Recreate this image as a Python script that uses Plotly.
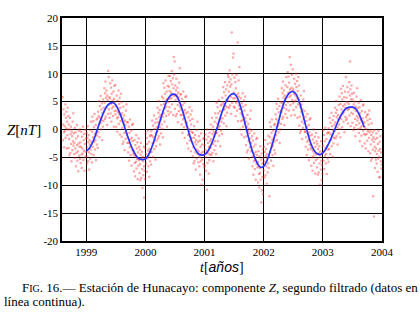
import numpy as np
import plotly.graph_objects as go

# ---- observed (filtered daily) values, one row per 0.1 year starting 1998.6, step 0.005 yr ----
obs_start = 1998.6
obs_step = 0.005
obs_z = [
    5.8, -1.9, 0.9, 3.6, -0.5, -3.2, 2.7, 0.6, -0.3, 4.5, -1.5, 2.1, 0.2, 3.2, -3.4, 1.4, -1.0, 3.9, 0.0, 2.4,
    -3.3, 0.9, -1.7, -4.6, 0.0, 2.1, -4.2, -0.8, 0.5, -2.6, -5.7, -0.4, -1.2, -3.7, 1.4, -2.1, 2.9, -2.9, -0.7, -4.4,
    -2.4, 0.3, -5.1, -3.4, -0.5, -6.6, -1.6, -4.2, 0.8, -2.8, -5.6, -3.9, -1.2, -7.5, -2.5, -0.2, -4.7, -3.1, 0.0, -5.3,
    -2.3, -6.0, -3.1, -0.4, -4.5, -6.9, -1.3, -3.4, -4.3, 0.5, -5.5, -1.9, -3.8, -0.8, -7.4, -2.6, -5.0, -0.1, -4.0, -1.6,
    -4.8, -0.6, -3.2, -6.1, -1.5, 0.6, -5.7, -2.3, -1.0, -4.1, -7.2, -1.9, -2.7, -5.2, -0.1, -3.6, 1.4, -4.4, -2.2, -5.9,
    -0.4, 2.3, -3.1, -1.4, 1.5, -4.6, 0.4, -2.2, 2.8, -0.8, -3.6, -1.9, 0.8, -5.5, -0.5, 1.8, -2.7, -1.1, 2.0, -3.3,
    3.2, -0.5, 2.4, 5.1, 1.0, -1.4, 4.2, 2.1, 1.2, 6.0, 0.0, 3.6, 1.7, 4.7, -1.9, 2.9, 0.5, 5.4, 1.5, 3.9,
    3.2, 7.4, 4.8, 1.9, 6.5, 8.6, 2.3, 5.7, 7.0, 3.9, 0.8, 6.1, 5.3, 2.8, 10.5, 4.4, 9.4, 3.6, 5.8, 2.1,
    5.6, 8.3, 2.9, 4.6, 7.5, 1.4, 6.4, 3.8, 8.8, 5.2, 2.4, 4.1, 6.8, 0.5, 5.5, 7.8, 3.3, 4.9, 8.0, 2.7,
    4.2, 0.5, 3.4, 6.1, 2.0, -0.4, 5.2, 3.1, 2.2, 7.0, 1.0, 4.6, 2.7, 5.7, -0.9, 3.9, 1.5, 6.4, 2.5, 4.9,
    -1.3, 2.9, 0.3, -2.6, 2.0, 4.1, -2.2, 1.2, 2.5, -0.6, -3.7, 1.6, 0.8, -1.7, 3.4, -0.1, 4.5, -0.9, 1.3, -2.4,
    -1.4, 1.3, -4.1, -2.4, 0.5, -5.6, -0.6, -3.2, 1.8, -1.8, -4.6, -2.9, -0.2, -6.5, -1.5, 0.8, -3.7, -2.1, 1.0, -4.3,
    -3.8, -7.5, -4.6, -1.9, -6.0, -8.4, -2.8, -4.9, -5.8, -1.0, -7.0, -3.4, -5.3, -2.3, -8.9, -4.1, -6.5, -1.6, -5.5, -3.1,
    -7.8, -3.6, -6.2, -9.1, -4.5, -2.4, -8.7, -5.3, -4.0, -7.1, -10.5, -4.9, -5.7, -8.2, -3.1, -6.6, -12.2, -7.4, -5.2, -8.9,
    -3.4, -0.7, -6.1, -4.4, -1.5, -7.6, -2.6, -5.2, -0.2, -3.8, -6.6, -4.9, -2.2, -8.5, -3.5, -1.2, -5.7, -4.1, -1.0, -6.3,
    -0.3, -4.0, -1.1, 1.6, -2.5, -4.9, 0.7, -1.4, -2.3, 2.5, -3.5, 0.1, -1.8, 1.2, -5.4, -0.6, -3.0, 1.9, -2.0, 0.4,
    -0.3, 3.9, 1.3, -1.6, 3.0, 5.1, -1.2, 2.2, 3.5, 0.4, -2.7, 2.6, 1.8, -0.7, 4.4, 0.9, 5.9, 0.1, 2.3, -1.4,
    5.6, 8.3, 2.9, 4.6, 7.5, 1.4, 6.4, 3.8, 8.8, 5.2, 2.4, 4.1, 6.8, 0.5, 5.5, 7.8, 3.3, 4.9, 9.6, 2.7,
    7.7, 4.0, 6.9, 9.6, 5.5, 3.1, 8.7, 6.6, 5.7, 10.5, 4.5, 8.1, 6.2, 9.2, 2.6, 7.4, 13.0, 9.9, 6.0, 12.2,
    3.7, 7.9, 5.3, 2.4, 7.0, 9.1, 2.8, 6.2, 7.5, 4.4, 1.3, 6.6, 5.8, 3.3, 8.4, 4.9, 11.0, 4.1, 6.3, 2.6,
    3.6, 6.3, 0.9, 2.6, 5.5, -0.6, 4.4, 1.8, 6.8, 3.2, 0.4, 2.1, 4.8, -1.5, 3.5, 5.8, 1.3, 2.9, 6.0, 0.7,
    1.2, -2.5, 0.4, 3.1, -1.0, -3.4, 2.2, 0.1, -0.8, 4.0, -2.0, 1.6, -0.3, 2.7, -3.9, 0.9, -1.5, 3.4, -0.5, 1.9,
    -4.8, -0.6, -3.2, -6.1, -1.5, 0.6, -5.7, -2.3, -1.0, -4.1, -7.2, -1.9, -2.7, -5.2, -0.1, -3.6, 1.4, -4.4, -2.2, -5.9,
    -3.9, -1.2, -6.6, -4.9, -2.0, -8.1, -3.1, -5.7, -0.7, -4.3, -9.9, -5.4, -2.7, -9.0, -4.0, -1.7, -6.2, -4.6, -1.5, -6.8,
    -2.8, -6.5, -3.6, -0.9, -5.0, -7.4, -1.8, -3.9, -10.8, 0.0, -6.0, -2.4, -4.3, -1.3, -7.9, -3.1, -5.5, -0.6, -4.5, -2.1,
    -3.3, 0.9, -1.7, -4.6, 0.0, 2.1, -4.2, -0.8, 0.5, -2.6, -5.7, -0.4, -1.2, -3.7, 1.4, -2.1, 2.9, -2.9, -0.7, -4.4,
    2.1, 4.8, -0.6, 1.1, 4.0, -2.1, 2.9, 0.3, 5.3, 1.7, -1.1, 0.6, 3.3, -3.0, 2.0, 4.3, -0.2, 1.4, 4.5, -0.8,
    5.7, 2.0, 4.9, 7.6, 3.5, 1.1, 6.7, 4.6, 3.7, 8.5, 2.5, 6.1, 4.2, 7.2, 0.6, 5.4, 3.0, 7.9, 4.0, 9.8,
    5.2, 9.4, 6.8, 3.9, 8.5, 10.6, 4.3, 7.7, 9.0, 5.9, 2.8, 8.1, 17.4, 4.8, 9.9, 6.4, 12.9, 5.6, 13.6, 4.1,
    6.6, 9.3, 3.9, 5.6, 8.5, 2.4, 7.4, 4.8, 9.8, 6.2, 3.4, 5.1, 15.6, 1.5, 6.5, 8.8, 4.3, 5.9, 11.2, 3.7,
    3.7, 0.0, 2.9, 5.6, 1.5, -0.9, 4.7, 2.6, 1.7, 6.5, 0.5, 4.1, 2.2, 5.2, -1.4, 3.4, 1.0, 5.9, 2.0, 4.4,
    -2.8, 1.4, -1.2, -4.1, 0.5, 2.6, -3.7, -0.3, 1.0, -2.1, -5.2, 0.1, -0.7, -3.2, 1.9, -1.6, 3.4, -2.4, -0.2, -3.9,
    -3.9, -1.2, -6.6, -4.9, -2.0, -8.1, -3.1, -5.7, -0.7, -4.3, -7.1, -5.4, -2.7, -9.0, -4.0, -1.7, -6.2, -4.6, -1.5, -6.8,
    -5.8, -9.5, -6.6, -3.9, -8.0, -10.4, -4.8, -6.9, -7.8, -3.0, -9.0, -5.4, -13.1, -4.3, -10.9, -6.1, -8.5, -3.6, -11.6, -5.1,
    -7.3, -3.1, -5.7, -8.6, -4.0, -1.9, -8.2, -4.8, -3.5, -6.6, -9.7, -4.4, -5.2, -7.7, -2.6, -6.1, -1.1, -6.9, -4.7, -12.0,
    -1.4, 1.3, -4.1, -2.4, 0.5, -5.6, -0.6, -3.2, 1.8, -1.8, -4.6, -2.9, -0.2, -6.5, -1.5, 0.8, -3.7, -2.1, 1.0, -4.3,
    2.7, -1.0, 1.9, 4.6, 0.5, -1.9, 3.7, 1.6, 0.7, 5.5, -0.5, 3.1, 1.2, 4.2, -2.4, 2.4, 0.0, 4.9, 1.0, 3.4,
    3.2, 7.4, 4.8, 1.9, 6.5, 8.6, 2.3, 5.7, 7.0, 3.9, 0.8, 6.1, 5.3, 2.8, 7.9, 4.4, 9.4, 3.6, 5.8, 2.1,
    7.6, 10.3, 4.9, 6.6, 9.5, 3.4, 8.4, 5.8, 13.0, 7.2, 4.4, 6.1, 11.6, 2.5, 7.5, 9.8, 5.3, 6.9, 10.8, 4.7,
    7.2, 3.5, 6.4, 9.1, 5.0, 2.6, 8.2, 6.1, 5.2, 10.0, 4.0, 7.6, 5.7, 8.7, 2.1, 6.9, 4.5, 9.4, 5.5, 7.9,
    0.7, 4.9, 2.3, -0.6, 4.0, 6.1, -0.2, 3.2, 4.5, 1.4, -1.7, 3.6, 2.8, 0.3, 5.4, 1.9, 6.9, 1.1, 3.3, -0.4,
    -0.4, 2.3, -3.1, -1.4, 1.5, -4.6, 0.4, -2.2, 2.8, -0.8, -3.6, -1.9, 0.8, -5.5, -0.5, 1.8, -2.7, -1.1, 2.0, -3.3,
    -2.8, -6.5, -3.6, -0.9, -5.0, -7.4, -1.8, -3.9, -4.8, 0.0, -6.0, -2.4, -4.3, -1.3, -7.9, -3.1, -5.5, -0.6, -4.5, -2.1,
    -6.8, -2.6, -5.2, -8.1, -3.5, -1.4, -7.7, -4.3, -3.0, -6.1, -9.9, -3.9, -4.7, -7.2, -2.1, -5.6, -9.1, -6.4, -4.2, -7.9,
    -2.9, -0.2, -5.6, -3.9, -1.0, -7.1, -2.1, -4.7, 0.3, -3.3, -6.1, -4.4, -1.7, -8.0, -3.0, -0.7, -5.2, -3.6, -0.5, -5.8,
    0.2, -3.5, -0.6, 2.1, -2.0, -4.4, 1.2, -0.9, -1.8, 3.0, -3.0, 0.6, -1.3, 1.7, -4.9, -0.1, -2.5, 2.4, -1.5, 0.9,
    -0.3, 3.9, 1.3, -1.6, 3.0, 5.1, -1.2, 2.2, 3.5, 0.4, -2.7, 2.6, 1.8, -0.7, 4.4, 0.9, 5.9, 0.1, 2.3, -1.4,
    4.6, 7.3, 1.9, 3.6, 6.5, 0.4, 5.4, 2.8, 7.8, 4.2, 1.4, 3.1, 5.8, -0.5, 4.5, 6.8, 2.3, 3.9, 9.4, 1.7,
    5.7, 2.0, 4.9, 7.6, 3.5, 1.1, 6.7, 4.6, 3.7, 8.5, 2.5, 6.1, 12.2, 7.2, 0.6, 5.4, 3.0, 7.9, 4.0, 6.4,
    1.2, 5.4, 2.8, -0.1, 4.5, 6.6, 0.3, 3.7, 5.0, 1.9, -1.2, 4.1, 3.3, 0.8, 5.9, 2.4, 7.4, 1.6, 3.8, 0.1,
    2.1, 4.8, -0.6, 1.1, 4.0, -2.1, 2.9, 0.3, 5.3, 1.7, -1.1, 0.6, 3.3, -3.0, 2.0, 4.3, -0.2, 1.4, 4.5, -0.8,
    1.2, -2.5, 0.4, 3.1, -1.0, -3.4, 2.2, 0.1, -0.8, 2.6, -2.0, 1.6, -0.3, 2.7, -3.9, 0.9, -1.5, 3.4, -0.5, 1.9,
    -4.3, -0.1, -2.7, -5.6, -1.0, 1.1, -5.2, -1.8, -0.5, -3.6, -12.0, -1.4, -2.2, -15.6, -0.1, -3.1, -6.9, -3.9, -1.7, -5.4,
    -3.4, -0.7, -6.1, -4.4, -1.5, -7.6, -2.6, -5.2, -0.2, -3.8, -8.6, -4.9, -2.2, -8.5, -3.5, -1.2, -5.7, -4.1, -7.0, -6.3,
]
obs_t = obs_start + obs_step * np.arange(len(obs_z))

# ---- second filtering (continuous line), every 0.05 yr from 1999.00 ----
fit_start = 1999.0
fit_step = 0.05
fit_z = [
    -3.9, -3.4, -2.5, -1.2, 0.4, 1.9, 3.2, 4.2, 4.7, 4.8,
    4.4, 3.4, 2.0, 0.4, -1.2, -2.7, -3.9, -4.8, -5.3, -5.4,
    -5.3, -4.6, -3.4, -1.9, -0.2, 1.6, 3.3, 4.8, 5.8, 6.3,
    6.3, 5.6, 4.3, 2.6, 0.7, -1.1, -2.6, -3.7, -4.4, -4.6,
    -4.5, -4.0, -3.0, -1.7, -0.1, 1.6, 3.3, 4.7, 5.7, 6.3,
    6.4, 5.8, 4.4, 2.5, 0.4, -1.7, -3.6, -5.1, -6.2, -6.8,
    -6.6, -5.7, -4.2, -2.5, -0.6, 1.4, 3.4, 5.0, 6.1, 6.7,
    6.8, 6.3, 5.0, 3.2, 1.1, -0.9, -2.6, -3.7, -4.3, -4.5,
    -4.2, -3.5, -2.5, -1.3, 0.0, 1.3, 2.4, 3.3, 3.8, 4.0,
    4.0, 3.8, 3.0, 1.8, 0.4,
]
fit_t = fit_start + fit_step * np.arange(len(fit_z))

x_ticks = [1999, 2000, 2001, 2002, 2003, 2004]
y_ticks = [-20, -15, -10, -5, 0, 5, 10, 15, 20]

serif = "Liberation Serif"

fig = go.Figure()
fig.add_trace(go.Scatter(
    x=obs_t, y=obs_z, mode="markers",
    marker=dict(symbol="square", size=2.2, color="rgba(255,40,40,0.42)", line=dict(width=0)),
    showlegend=False, hoverinfo="skip",
))
fig.add_trace(go.Scatter(
    x=fit_t, y=fit_z, mode="lines",
    line=dict(color="#2b35ff", width=1.7, shape="spline"),
    showlegend=False,
))

axis_common = dict(
    showgrid=True, gridcolor="black", gridwidth=1.3,
    showline=True, linecolor="black", linewidth=1.5, mirror=True,
    ticks="", zeroline=False,
    tickfont=dict(family=serif, size=11, color="black"),
)
fig.update_xaxes(range=[1998.59, 2004.0], tickvals=x_ticks, ticktext=[str(v) for v in x_ticks], **axis_common)
fig.update_yaxes(range=[-20, 20], tickvals=y_ticks, ticktext=[str(v) for v in y_ticks], **axis_common)

fig.update_layout(
    width=420, height=314,
    margin=dict(l=62, r=38, t=13, b=73),
    paper_bgcolor="white", plot_bgcolor="white",
    annotations=[
        dict(text="<i>Z</i>[<i>nT</i>]", xref="paper", yref="paper", x=-0.119, y=0.4956,
             xanchor="center", yanchor="middle", showarrow=False,
             font=dict(family=serif, size=15, color="black")),
        dict(text="<i>t</i>[<i><span style='font-family:Liberation Sans'>años</span></i>]",
             xref="paper", yref="paper", x=0.5, y=-0.118,
             xanchor="center", yanchor="middle", showarrow=False,
             font=dict(family=serif, size=14, color="black")),
        dict(text="F<span style='font-size:10px'>IG</span>. 16.— Estación de Hunacayo: componente <i>Z</i>, segundo filtrado (datos en",
             xref="paper", yref="paper", x=-0.13125, y=-0.2105,
             xanchor="left", yanchor="middle", showarrow=False,
             font=dict(family=serif, size=13, color="black")),
        dict(text="línea continua).",
             xref="paper", yref="paper", x=-0.1875, y=-0.272,
             xanchor="left", yanchor="middle", showarrow=False,
             font=dict(family=serif, size=13, color="black")),
    ],
)

fig.write_html("out.html", config={"displayModeBar": False},
               post_script="document.body.style.margin='0';")
